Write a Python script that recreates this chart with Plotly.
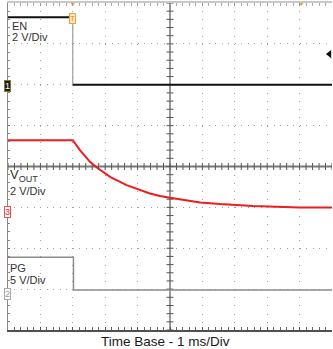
import plotly.graph_objects as go
import numpy as np

# ---------------- data (time in ms, 1 ms/div; trigger edge at 2 ms) ----------------
en_t = [0.0, 2.0, 2.0, 10.0]
en_v = [3.3, 3.3, 0.0, 0.0]

vout_t = [0.0, 2.0, 2.22, 2.53, 2.74, 3.15, 3.66, 4.07, 4.38, 4.69, 5.0, 5.93, 6.54, 7.56, 9.01, 10.0]
vout_v = [3.45, 3.45, 2.96, 2.39, 2.11, 1.65, 1.25, 1.00, 0.84, 0.72, 0.63, 0.40, 0.32, 0.23, 0.16, 0.16]

pg_t = [0.0, 2.02, 2.02, 10.0]
pg_v = [4.0, 4.0, 0.0, 0.0]

# channel settings: volts per division and ground level (divisions from bottom)
en_scale, en_gnd = 2, 6.0
vout_scale, vout_gnd = 2, 2.92
pg_scale, pg_gnd = 5, 0.98
trig_level = 1.5  # V on EN channel

labels = {"en": ["EN", "2 V/Div"], "vout": ["V<sub>OUT</sub>", "2 V/Div"], "pg": ["PG", "5 V/Div"]}
x_title = "Time Base - 1 ms/Div"

# ---------------- layout geometry ----------------
W, H = 333, 349
ML, MR, MT, MB = 8, 1, 3, 19
PW, PH = W - ML - MR, H - MT - MB
FONT = "Liberation Sans, Arial, sans-serif"


def rng(scale, gnd):
    return [-gnd * scale, (8 - gnd) * scale]


def px(xp):
    return (xp - ML) / PW


def py(yp):
    return (H - MB - yp) / PH


fig = go.Figure()

# PG
fig.add_trace(go.Scatter(x=pg_t, y=pg_v, mode="lines", yaxis="y4",
                         line=dict(color="#8c8c8c", width=1.5), hoverinfo="skip"))
# VOUT
fig.add_trace(go.Scatter(x=vout_t, y=vout_v, mode="lines", yaxis="y3",
                         line=dict(color="#ee1c1c", width=2), hoverinfo="skip"))
# EN edge (thin) and levels (thick)
fig.add_trace(go.Scatter(x=[en_t[1], en_t[2]], y=[en_v[1], en_v[2]], mode="lines", yaxis="y2",
                         line=dict(color="#8a8a8a", width=1), hoverinfo="skip"))
fig.add_trace(go.Scatter(x=[en_t[0], en_t[1], None, en_t[2], en_t[3]],
                         y=[en_v[0], en_v[1], None, en_v[2], en_v[3]], mode="lines", yaxis="y2",
                         line=dict(color="#111111", width=2), hoverinfo="skip"))

# center tick marks
sub_x = np.round(np.arange(0, 10.001, 0.2), 3)
sub_y = np.round(np.arange(0, 8.001, 0.2), 3)
fig.add_trace(go.Scatter(x=sub_x, y=[4] * len(sub_x), mode="markers", yaxis="y",
                         marker=dict(symbol="line-ns", size=5, line=dict(color="#555555", width=1)),
                         hoverinfo="skip"))
fig.add_trace(go.Scatter(x=[5] * len(sub_y), y=sub_y, mode="markers", yaxis="y",
                         marker=dict(symbol="line-ew", size=5, line=dict(color="#555555", width=1)),
                         hoverinfo="skip"))

# trigger markers (top, right) on the top axis
fig.add_trace(go.Scatter(x=[en_t[1], 9.05], y=[8, 8], xaxis="x2", yaxis="y", mode="markers",
                         marker=dict(symbol="triangle-down", size=6, color="#f0a030"),
                         cliponaxis=False, hoverinfo="skip"))
fig.add_trace(go.Scatter(x=[9.92], y=[trig_level], yaxis="y2", mode="markers",
                         marker=dict(symbol="triangle-left", size=7, color="#111111"),
                         cliponaxis=False, hoverinfo="skip"))

shapes = [
    dict(type="line", xref="x", yref="y", x0=5, x1=5, y0=0, y1=8,
         line=dict(color="#555555", width=1.2), layer="below"),
    dict(type="line", xref="x", yref="y", x0=0, x1=10, y0=4, y1=4,
         line=dict(color="#777777", width=1.8), layer="below"),
]

ann = []


def label(text, xp, yp, size=11, color="#333333"):
    ann.append(dict(text=text, xref="paper", yref="paper", x=px(xp), y=py(yp),
                    xanchor="left", yanchor="middle", showarrow=False,
                    font=dict(family=FONT, size=size, color=color), borderpad=0))


label(labels["en"][0], 11, 25.5)
label(labels["en"][1], 11, 36.5)
label(labels["vout"][0], 9, 175, size=13)
label(labels["vout"][1], 9, 190.5)
label(labels["pg"][0], 9, 268)
label(labels["pg"][1], 9, 280)

# channel ground markers
ann.append(dict(text="1", xref="paper", yref="y2", x=px(3.5), y=0, yshift=-1, showarrow=False,
                font=dict(family=FONT, size=9, color="#ffffff"), bgcolor="#1a1a1a",
                bordercolor="#8a7a20", borderwidth=1, borderpad=0))
ann.append(dict(text="3", xref="paper", yref="y3", x=px(4), y=0, yshift=-1, showarrow=False,
                font=dict(family=FONT, size=9, color="#e02828"), bgcolor="#ffffff",
                bordercolor="#e85050", borderwidth=1, borderpad=0))
ann.append(dict(text="2", xref="paper", yref="y4", x=px(4), y=0, yshift=-4, showarrow=False,
                font=dict(family=FONT, size=9, color="#999999"), bgcolor="#ffffff",
                bordercolor="#aaaaaa", borderwidth=1, borderpad=0))
# trigger "T"
ann.append(dict(text="T", xref="x", yref="paper", x=en_t[1], y=py(13), showarrow=False,
                font=dict(family=FONT, size=8, color="#e08a20"), bgcolor="#ffe6c0",
                bordercolor="#f0a030", borderwidth=1, borderpad=0))
# x title
ann.append(dict(text=x_title, xref="paper", yref="paper", x=px(165), y=py(341),
                xanchor="center", yanchor="middle", showarrow=False,
                font=dict(family=FONT, size=13.5, color="#1a1a1a")))

fig.update_layout(
    width=W, height=H, autosize=False,
    margin=dict(l=ML, r=MR, t=MT, b=MB, pad=0),
    paper_bgcolor="white", plot_bgcolor="white",
    showlegend=False,
    shapes=shapes, annotations=ann,
    xaxis=dict(range=[0, 10], dtick=1, tick0=0, showticklabels=False, zeroline=False,
               showgrid=True, gridcolor="#a0a0a0", gridwidth=1, griddash="1px,7.175px",
               showline=True, linecolor="#505050", linewidth=2,
               ticks="inside", ticklen=3, tickcolor="#555555",
               minor=dict(dtick=0.2, ticks="inside", ticklen=3, tickcolor="#666666", showgrid=False),
               fixedrange=True),
    xaxis2=dict(range=[0, 10], overlaying="x", side="top", anchor="y", dtick=1,
                showticklabels=False, showgrid=False, zeroline=False,
                showline=True, linecolor="#c8c8c8", linewidth=2,
                ticks="inside", ticklen=3, tickcolor="#999999",
                minor=dict(dtick=0.2, ticks="inside", ticklen=3, tickcolor="#aaaaaa")),
    yaxis=dict(range=[0, 8], dtick=1, tick0=0, showticklabels=False, zeroline=False,
               showgrid=True, gridcolor="#a0a0a0", gridwidth=1, griddash="1px,5.48px",
               showline=True, linecolor="#8a8a8a", linewidth=1,
               ticks="inside", ticklen=2, tickcolor="#777777",
               minor=dict(dtick=0.2, ticks="inside", ticklen=2, tickcolor="#888888", showgrid=False)),
    yaxis2=dict(range=rng(en_scale, en_gnd), overlaying="y", visible=False),
    yaxis3=dict(range=rng(vout_scale, vout_gnd), overlaying="y", visible=False),
    yaxis4=dict(range=rng(pg_scale, pg_gnd), overlaying="y", visible=False),
)

fig.write_html("out.html", config={"displayModeBar": False})
